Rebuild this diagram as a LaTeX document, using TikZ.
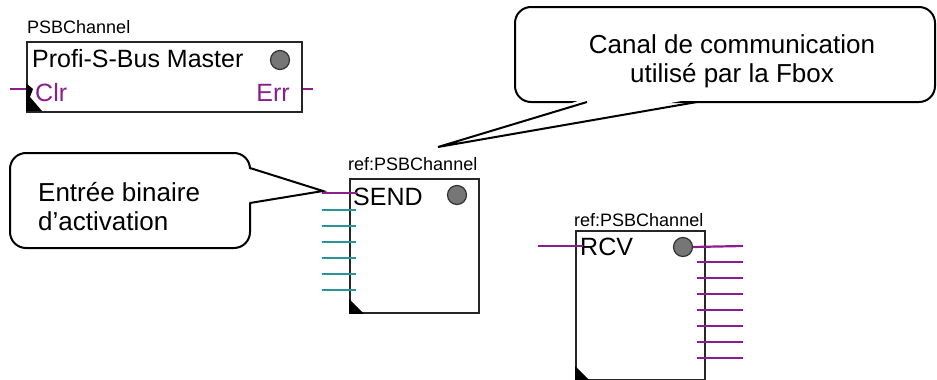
\documentclass[tikz,border=0pt]{standalone}
\usepackage{fontspec}
\setmainfont{Liberation Sans}
\definecolor{pp}{RGB}{140,30,140}
\definecolor{tl}{RGB}{40,150,150}
\definecolor{ledgray}{RGB}{118,118,118}
\begin{document}
\begin{tikzpicture}[x=1pt,y=-1pt,
  fbox/.style={draw=black!85, line width=1.8pt, fill=white, anchor=north west, inner sep=0pt},
  lbl/.style={inner sep=0pt, anchor=base west, font=\fontsize{18}{21}\selectfont},
  ttl/.style={inner sep=0pt, anchor=base west, font=\fontsize{25}{29}\selectfont},
  ptxt/.style={inner sep=0pt, text=pp, font=\fontsize{25}{29}\selectfont},
  led/.style={circle, inner sep=0pt, minimum size=19pt, fill=ledgray, draw=black!80, line width=1.2pt},
  pport/.style={draw=pp, line width=2.2pt},
  tport/.style={draw=tl, line width=2.2pt},
  callbox/.style={draw=black, line width=2pt, fill=white, rounded corners=16pt},
  cline/.style={draw=black, line width=2pt, line join=miter},
  ctxt/.style={inner sep=0pt, font=\fontsize{26}{29}\selectfont}
]
\useasboundingbox (0,0) rectangle (937,380);

% ---------- Box 1 : Profi-S-Bus Master ----------
\node[lbl] (masterlbl) at (27,33) {PSBChannel};
\node[fbox, minimum width=275pt, minimum height=70pt] (master) at (26,41) {};
\node[ttl] (mastert) at (32,67) {Profi-S-Bus Master};
\node[led] (masterled) at (280,60) {};
\coordinate (clrEnd) at (10,89);
\coordinate (errEnd) at (313,89);
\draw[pport] (clrEnd) -- (clrEnd -| master.west);
\draw[pport] (errEnd -| master.east) -- (errEnd);
\node[ptxt, anchor=base west] (clr) at (35,101) {Clr};
\node[ptxt, anchor=base east] (err) at (290,101) {Err};
\fill (26,83) -- (33,89) -- (30,97) -- (42,111) -- (26,111) -- cycle;

% ---------- Box 2 : SEND ----------
\node[lbl] (sendlbl) at (348,170) {ref:PSBChannel};
\node[fbox, minimum width=129pt, minimum height=134pt] (send) at (349,178) {};
\node[ttl] (sendt) at (353,205) {SEND};
\node[led] (sendled) at (457,195) {};
\coordinate (s0) at (322,193);
\coordinate (s0b) at (357,193);
\draw[pport] (s0) -- (s0b);
\foreach \i/\yy in {1/210,2/226,3/242,4/258,5/274,6/290}{
  \coordinate (sin\i) at (322,\yy);
  \coordinate (sinb\i) at (356,\yy);
  \draw[tport] (sin\i) -- (sinb\i);
}
\fill (send.south west) -- ++(0,-15) -- ++(15,15) -- cycle;

% ---------- Box 3 : RCV ----------
\node[lbl] (rcvlbl) at (574,226) {ref:PSBChannel};
\node[fbox, minimum width=129pt, minimum height=149pt] (rcv) at (575,230) {};
\node[ttl] (rcvt) at (580,255) {RCV};
\node[led] (rcvled) at (683,247) {};
\coordinate (r0) at (538,246);
\coordinate (r0b) at (583,246);
\draw[pport] (r0) -- (r0b);
\coordinate (q0) at (743,246);
\draw[pport] (rcvled.east) -- (q0);
\foreach \i/\yy in {1/262,2/278,3/294,4/310,5/326,6/342,7/358}{
  \coordinate (qa\i) at (697,\yy);
  \coordinate (qb\i) at (743,\yy);
  \draw[pport] (qa\i) -- (qb\i);
}
\fill (rcv.south west) -- ++(0,-15) -- ++(15,15) -- cycle;

% ---------- Callout 1 ----------
\draw[callbox] (10,153) rectangle (250,248);
\coordinate (tip1) at (323,191);
\fill[white] (246,168) -- (tip1) -- (246,203) -- cycle;
\draw[cline] (250,168) -- (tip1) -- (250,203);
\node[ctxt, anchor=west, align=left] (c1) at (38,207) {Entrée binaire\\d’activation};

% ---------- Callout 2 ----------
\draw[callbox] (515,7) rectangle (935,102);
\coordinate (tip2) at (438,147);
\fill[white] (587,98) -- (tip2) -- (697,98) -- cycle;
\draw[cline] (587,102) -- (tip2) -- (697,102);
\node[ctxt, align=center] (c2) at (732,61) {Canal de communication\\utilisé par la Fbox};
\end{tikzpicture}
\end{document}
